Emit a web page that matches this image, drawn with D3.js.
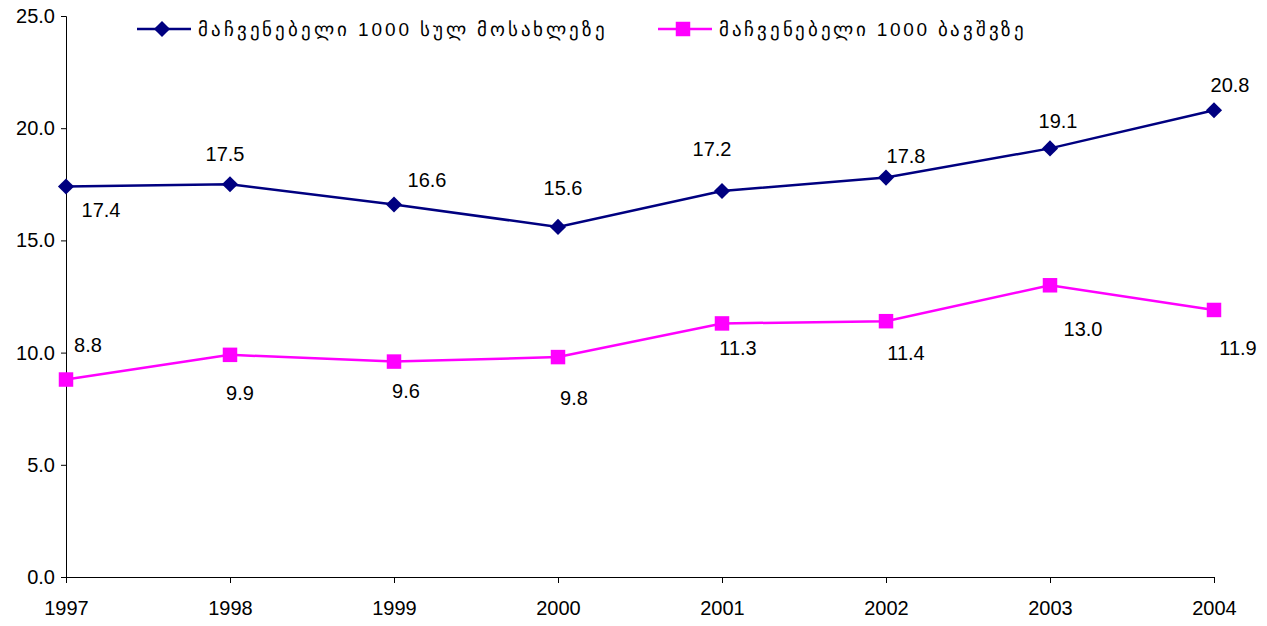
<!DOCTYPE html>
<html>
<head>
<meta charset="utf-8">
<script src="https://cdn.jsdelivr.net/npm/d3@7"></script>
<style>
  body { margin: 0; background: #fff; overflow: hidden; }
  svg { display: block; }
  text { font-family: 'Liberation Sans', Arial, sans-serif; }
</style>
</head>
<body>
<svg width="1267" height="626"></svg>
<script>
      const years = ['1997', '1998', '1999', '2000', '2001', '2002', '2003', '2004'];
      const perPopulation = [17.4, 17.5, 16.6, 15.6, 17.2, 17.8, 19.1, 20.8];
      const perChildren = [8.8, 9.9, 9.6, 9.8, 11.3, 11.4, 13.0, 11.9];
      const yTickValues = [0, 5, 10, 15, 20, 25];
      const seriesNames = ['მაჩვენებელი 1000 სულ მოსახლეზე', 'მაჩვენებელი 1000 ბავშვზე'];

      // label offsets (dx, dy) from the point, per series
      const labelOffsets1 = [[35, 23], [-5, -30], [33, -24], [5, -39], [-10, -42], [20, -22], [8, -27], [16, -25]];
      const labelOffsets2 = [[22, -35], [10, 38], [12, 29], [16, 41], [16, 25], [20, 32], [33, 44], [24, 38]];

      const margin = { left: 66, right: 53, top: 16, bottom: 49 };
      const svg = d3.select('svg');
      const width = +svg.attr('width');
      const height = +svg.attr('height');
      const innerWidth = width - margin.left - margin.right;
      const innerHeight = height - margin.top - margin.bottom;

      const g = svg.append('g')
          .attr('transform', `translate(${margin.left},${margin.top})`);

      const xScale = d3.scalePoint().domain(years).range([0, innerWidth]);
      const yScale = d3.scaleLinear().domain([0, 25]).range([innerHeight, 0]);

      const yAxis = d3.axisLeft(yScale)
        .tickValues(yTickValues)
        .tickFormat(d3.format('.1f'))
        .tickSize(5)
        .tickPadding(6);
      const xAxis = d3.axisBottom(xScale)
        .tickSize(6)
        .tickPadding(9);

      const yAxisG = g.append('g').call(yAxis);
      const xAxisG = g.append('g').attr('transform', `translate(0,${innerHeight})`).call(xAxis);
      [yAxisG, xAxisG].forEach(a => {
        a.select('.domain').attr('stroke', '#000').attr('stroke-width', 1);
        a.selectAll('.tick line').attr('stroke', '#000');
        a.selectAll('.tick text')
          .attr('font-family', "'Liberation Sans', Arial, sans-serif")
          .attr('font-size', 20)
          .attr('fill', '#000');
      });
      xAxisG.selectAll('.tick text').attr('y', 24).attr('dy', '0.71em');

      const line = d3.line()
        .x((d, i) => xScale(years[i]))
        .y(d => yScale(d));

      const series = [
        { values: perPopulation, color: '#000080', shape: d3.symbolSquare, size: 130, rot: 45, offsets: labelOffsets1 },
        { values: perChildren, color: '#FF00FF', shape: d3.symbolSquare, size: 210, rot: 0, offsets: labelOffsets2 }
      ];

      series.forEach(s => {
        g.append('path')
          .attr('fill', 'none')
          .attr('stroke', s.color)
          .attr('stroke-width', 2.5)
          .attr('d', line(s.values));

        g.selectAll(null).data(s.values).enter()
          .append('path')
          .attr('d', d3.symbol().type(s.shape).size(s.size))
          .attr('transform', (d, i) => `translate(${xScale(years[i])},${yScale(d)}) rotate(${s.rot})`)
          .attr('fill', s.color);

        g.selectAll(null).data(s.values).enter()
          .append('text')
          .attr('x', (d, i) => xScale(years[i]) + s.offsets[i][0])
          .attr('y', (d, i) => yScale(d) + s.offsets[i][1])
          .attr('text-anchor', 'middle')
          .attr('dy', '0.35em')
          .attr('font-size', 20)
          .attr('fill', '#000')
          .text(d => d.toFixed(1));
      });

      // legend
      const legendPos = [[137, 29], [658, 29]];
      const legendTextLen = [407, 305];
      series.forEach((s, k) => {
        const lg = svg.append('g').attr('transform', `translate(${legendPos[k][0]},${legendPos[k][1]})`);
        lg.append('line')
          .attr('x1', 0).attr('x2', 54)
          .attr('stroke', s.color).attr('stroke-width', 2.5);
        lg.append('path')
          .attr('d', d3.symbol().type(s.shape).size(s.size))
          .attr('transform', `translate(25,0) rotate(${s.rot})`)
          .attr('fill', s.color);
        lg.append('text')
          .attr('x', 61)
          .attr('dy', '0.35em')
          .attr('font-family', "'DejaVu Serif', serif")
          .attr('font-size', 19)
          .attr('textLength', legendTextLen[k])
          .attr('lengthAdjust', 'spacing')
          .attr('fill', '#000')
          .text(seriesNames[k]);
      });
</script>
</body>
</html>
